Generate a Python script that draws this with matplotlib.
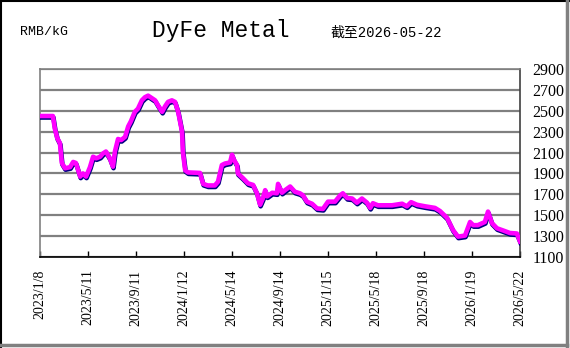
import pandas as pd
import matplotlib
matplotlib.use("Agg")
import matplotlib.pyplot as plt
import matplotlib.patheffects as pe
from matplotlib.lines import Line2D

# price readings (RMB/kG)
dates = [
    "2023-01-08", "2023-02-10", "2023-02-15", "2023-02-21", "2023-02-28", "2023-03-05",
    "2023-03-13", "2023-03-26", "2023-04-03", "2023-04-10", "2023-04-21", "2023-04-28",
    "2023-05-06", "2023-05-16", "2023-05-24", "2023-06-01", "2023-06-11", "2023-06-18",
    "2023-06-26", "2023-07-06", "2023-07-14", "2023-07-19", "2023-07-27", "2023-08-04",
    "2023-08-14", "2023-08-22", "2023-08-29", "2023-09-08", "2023-09-16", "2023-09-26",
    "2023-10-04", "2023-10-12", "2023-10-22", "2023-10-30", "2023-11-06", "2023-11-17",
    "2023-11-24", "2023-12-02", "2023-12-12", "2023-12-20", "2023-12-28", "2024-01-07",
    "2024-01-09", "2024-01-15", "2024-01-22", "2024-02-22", "2024-03-01", "2024-03-13",
    "2024-03-31", "2024-04-08", "2024-04-18", "2024-04-26", "2024-05-09", "2024-05-14",
    "2024-05-19", "2024-05-27", "2024-05-29", "2024-06-11", "2024-06-24", "2024-07-07",
    "2024-07-17", "2024-07-25", "2024-08-01", "2024-08-07", "2024-08-12", "2024-08-25",
    "2024-09-06", "2024-09-09", "2024-09-19", "2024-09-27", "2024-10-10", "2024-10-22",
    "2024-11-04", "2024-11-12", "2024-11-22", "2024-12-05", "2024-12-18", "2025-01-02",
    "2025-01-15", "2025-02-02", "2025-02-15", "2025-02-22", "2025-03-05", "2025-03-18",
    "2025-03-30", "2025-04-12", "2025-04-25", "2025-05-03", "2025-05-10", "2025-05-23",
    "2025-06-28", "2025-07-24", "2025-08-05", "2025-08-16", "2025-08-31", "2025-09-21",
    "2025-10-16", "2025-10-29", "2025-11-16", "2025-12-01", "2025-12-14", "2026-01-01",
    "2026-01-14", "2026-01-22", "2026-02-03", "2026-02-21", "2026-03-01", "2026-03-11",
    "2026-03-24", "2026-04-08", "2026-04-26", "2026-05-14", "2026-05-22",
]
prices = [
    2450, 2450, 2330, 2240, 2190, 2000,
    1950, 1960, 2010, 2000, 1870, 1900,
    1870, 1960, 2060, 2045, 2060, 2090,
    2110, 2045, 1965, 2110, 2230, 2220,
    2250, 2350, 2400, 2490, 2520, 2600,
    2630, 2645, 2620, 2600, 2555, 2490,
    2540, 2585, 2600, 2585, 2490, 2300,
    2110, 1930, 1910, 1905, 1800, 1785,
    1785, 1820, 1980, 1995, 2005, 2080,
    2030, 1980, 1900, 1855, 1805, 1790,
    1710, 1600, 1660, 1740, 1680, 1715,
    1710, 1800, 1715, 1740, 1775, 1725,
    1710, 1690, 1630, 1610, 1565, 1560,
    1630, 1630, 1690, 1710, 1665, 1660,
    1620, 1660, 1620, 1570, 1615, 1595,
    1595, 1610, 1585, 1625, 1600, 1585,
    1570, 1540, 1475, 1360, 1295, 1305,
    1435, 1405, 1405, 1435, 1535, 1425,
    1375, 1355, 1330, 1325, 1250,
]
tick_labels = ["2023/1/8", "2023/5/11", "2023/9/11", "2024/1/12", "2024/5/14", "2024/9/14",
               "2025/1/15", "2025/5/18", "2025/9/18", "2026/1/19", "2026/5/22"]
y_ticks = [1100, 1300, 1500, 1700, 1900, 2100, 2300, 2500, 2700, 2900]

df = pd.DataFrame({"date": pd.to_datetime(dates), "price": prices})
tick_pos = pd.to_datetime(tick_labels, format="%Y/%m/%d")

fig = plt.figure(figsize=(5.7, 3.48), dpi=100)
ax = fig.add_axes([40 / 570, 1 - 257 / 348, 480 / 570, 188 / 348])

ax.plot(df["date"], df["price"], color="#FF00FF", linewidth=3.3, solid_joinstyle="round",
        path_effects=[pe.SimpleLineShadow(offset=(0.4, -1.1), shadow_color="#000080", alpha=1, rho=1),
                      pe.Normal()], zorder=3)

ax.set_xlim(tick_pos[0], tick_pos[-1])
ax.set_ylim(1100, 2900)
ax.set_yticks(y_ticks)
ax.yaxis.tick_right()
ax.tick_params(axis="y", length=0, pad=9, labelsize=11.5)
ax.set_xticks(tick_pos)
ax.set_xticklabels(tick_labels, rotation=90, fontsize=10)
ax.tick_params(axis="x", direction="in", length=4, width=1, pad=9, color="black")
for lab in ax.get_xticklabels() + ax.get_yticklabels():
    lab.set_family("Liberation Serif")
ax.grid(axis="y", color="#808080", linewidth=1.6)
ax.set_axisbelow(True)

ax.spines["left"].set_color("#808080")
ax.spines["top"].set_color("#808080")
ax.spines["right"].set_color("#404040")
ax.spines["bottom"].set_color("black")
for s in ax.spines.values():
    s.set_linewidth(1.2)

fig.text(20 / 570, 1 - 32 / 348, "RMB/kG", family="Liberation Mono", fontsize=9.5, va="center")
fig.text(221 / 570, 1 - 30 / 348, "DyFe Metal", family="Liberation Mono", fontsize=16.5,
         va="center", ha="center")
fig.text(330 / 570, 1 - 33 / 348, "截至2026-05-22", family=["Liberation Mono", "Noto Sans CJK SC"],
         fontsize=10, va="center")

# outer frame: dark top/left, grey shadow right/bottom
fig.add_artist(Line2D([0.001, 0.001], [0, 1], color="black", linewidth=1.5, transform=fig.transFigure))
fig.add_artist(Line2D([0, 1], [0.998, 0.998], color="black", linewidth=1.5, transform=fig.transFigure))
fig.add_artist(Line2D([567 / 570, 567 / 570], [2 / 348, 1], color="#808080", linewidth=2.5, transform=fig.transFigure))
fig.add_artist(Line2D([0, 567 / 570], [3 / 348, 3 / 348], color="#808080", linewidth=2.5, transform=fig.transFigure))

fig.savefig("out.png", dpi=100)
